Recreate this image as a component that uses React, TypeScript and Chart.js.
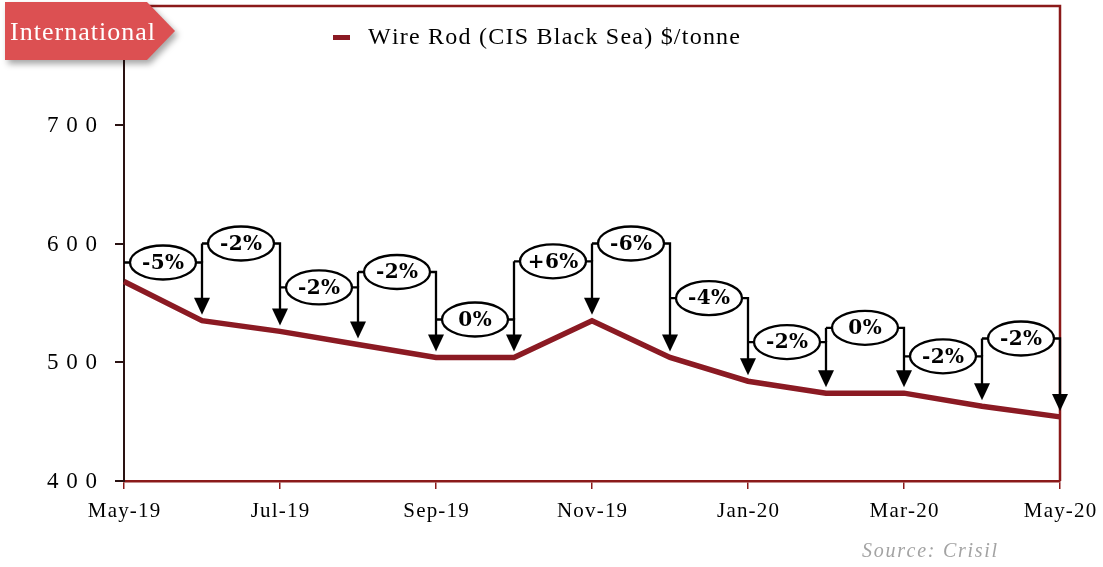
import React, { useEffect, useRef } from 'react';
import { Chart, registerables } from 'chart.js';

Chart.register(...registerables);

const months = ['May-19', 'Jun-19', 'Jul-19', 'Aug-19', 'Sep-19', 'Oct-19', 'Nov-19', 'Dec-19', 'Jan-20', 'Feb-20', 'Mar-20', 'Apr-20', 'May-20'];
const wireRodPrices = [568, 535, 526, 515, 504, 504, 535, 504, 484, 474, 474, 463, 454];
const changeLabels = ['-5%', '-2%', '-2%', '-2%', '0%', '+6%', '-6%', '-4%', '-2%', '0%', '-2%', '-2%'];
const calloutLevels = [584, 600, 563, 576, 536, 585, 600, 554, 517, 529, 505, 520];
const yTickValues = [400, 500, 600, 700];
const seriesName = 'Wire Rod (CIS Black Sea) $/tonne';
const badgeText = 'International';
const sourceText = 'Source: Crisil';

const LINE_COLOR = '#8B1A23';
const FRAME_COLOR = '#8B1A1A';
const AXIS_DARK = '#2a1212';

function drawSpaced(ctx: CanvasRenderingContext2D, text: string, x: number, y: number, opts: { spacing?: number; width?: number; align?: 'left' | 'right' | 'center' }) {
  const chars = Array.from(text);
  const widths = chars.map((c) => ctx.measureText(c).width);
  const natural = widths.reduce((a, b) => a + b, 0);
  let spacing = opts.spacing ?? 0;
  if (opts.width !== undefined && chars.length > 1) spacing = (opts.width - natural) / (chars.length - 1);
  const total = natural + spacing * (chars.length - 1);
  let cx = x;
  if (opts.align === 'right') cx = x - total;
  else if (opts.align === 'center') cx = x - total / 2;
  ctx.textAlign = 'left';
  chars.forEach((c, i) => {
    ctx.fillText(c, cx, y);
    cx += widths[i] + spacing;
  });
}

const framePlugin = {
  id: 'frame',
  beforeDatasetsDraw(chart: any) {
    const { ctx, chartArea } = chart;
    ctx.save();
    ctx.strokeStyle = FRAME_COLOR;
    ctx.lineWidth = 2.5;
    ctx.beginPath();
    ctx.moveTo(chartArea.left, chartArea.top);
    ctx.lineTo(chartArea.right, chartArea.top);
    ctx.lineTo(chartArea.right, chartArea.bottom);
    ctx.stroke();
    ctx.restore();
  },
};

const calloutPlugin = {
  id: 'callouts',
  afterDatasetsDraw(chart: any) {
    const { ctx } = chart;
    const xs = chart.scales.x;
    const ys = chart.scales.y;
    const rx = 33;
    const ry = 17;
    ctx.save();
    ctx.strokeStyle = '#000';
    ctx.fillStyle = '#000';
    ctx.lineWidth = 2.3;
    for (let k = 0; k < changeLabels.length; k++) {
      const x0 = xs.getPixelForValue(k);
      const x1 = xs.getPixelForValue(k + 1);
      const xm = (x0 + x1) / 2;
      const yL = ys.getPixelForValue(calloutLevels[k]);
      const tip = ys.getPixelForValue(wireRodPrices[k + 1]) - 6;
      if (k > 0) {
        const prevL = ys.getPixelForValue(calloutLevels[k - 1]);
        if (yL < prevL) {
          ctx.beginPath();
          ctx.moveTo(x0, yL);
          ctx.lineTo(x0, prevL);
          ctx.stroke();
        }
      }
      ctx.beginPath();
      ctx.moveTo(x0, yL);
      ctx.lineTo(xm - rx, yL);
      ctx.moveTo(xm + rx, yL);
      ctx.lineTo(x1, yL);
      ctx.lineTo(x1, tip - 14);
      ctx.stroke();
      ctx.beginPath();
      ctx.moveTo(x1 - 8, tip - 17);
      ctx.lineTo(x1 + 8, tip - 17);
      ctx.lineTo(x1, tip);
      ctx.closePath();
      ctx.fill();
      ctx.beginPath();
      ctx.ellipse(xm, yL, rx, ry, 0, 0, Math.PI * 2);
      ctx.fillStyle = '#fff';
      ctx.fill();
      ctx.stroke();
      ctx.fillStyle = '#000';
      ctx.font = 'bold 20px "DejaVu Serif"';
      ctx.textBaseline = 'middle';
      drawSpaced(ctx, changeLabels[k], xm, yL + 1, { spacing: 0.5, align: 'center' });
    }
    ctx.restore();
  },
};

const decorPlugin = {
  id: 'decor',
  afterDraw(chart: any) {
    const { ctx } = chart;
    const ys = chart.scales.y;
    const xs = chart.scales.x;
    ctx.save();
    ctx.fillStyle = '#000';
    ctx.font = '23px "Liberation Serif"';
    ctx.textBaseline = 'middle';
    yTickValues.forEach((v) => {
      drawSpaced(ctx, String(v), 97, ys.getPixelForValue(v) + 1, { width: 50, align: 'right' });
    });
    ctx.font = '21px "Liberation Serif"';
    ctx.textBaseline = 'middle';
    months.forEach((m, i) => {
      if (i % 2 !== 0) return;
      drawSpaced(ctx, m, xs.getPixelForValue(i), 511, { spacing: 1.2, align: 'center' });
    });
    const ds = chart.data.datasets[0];
    ctx.fillStyle = ds.borderColor;
    ctx.fillRect(333, 35, 17, 5);
    ctx.fillStyle = '#000';
    ctx.font = '24px "Liberation Serif"';
    ctx.textBaseline = 'middle';
    drawSpaced(ctx, ds.label, 368, 38, { width: 372, align: 'left' });
    ctx.fillStyle = '#A3A3A3';
    ctx.font = 'italic 20px "Liberation Serif"';
    drawSpaced(ctx, sourceText, 862, 552, { width: 135, align: 'left' });
    ctx.save();
    ctx.shadowColor = 'rgba(0,0,0,0.35)';
    ctx.shadowBlur = 6;
    ctx.shadowOffsetX = 3;
    ctx.shadowOffsetY = 4;
    ctx.fillStyle = '#DC5052';
    ctx.beginPath();
    ctx.moveTo(5, 2);
    ctx.lineTo(147, 2);
    ctx.lineTo(175, 31);
    ctx.lineTo(147, 60);
    ctx.lineTo(5, 60);
    ctx.closePath();
    ctx.fill();
    ctx.restore();
    ctx.fillStyle = '#fff';
    ctx.font = '26px "Liberation Serif"';
    ctx.textBaseline = 'middle';
    drawSpaced(ctx, badgeText, 10, 33, { width: 145, align: 'left' });
    ctx.restore();
  },
};

export default function App() {
  const canvasRef = useRef<HTMLCanvasElement>(null);

  useEffect(() => {
    if (!canvasRef.current) return;
    const chart = new Chart(canvasRef.current, {
      type: 'line',
      data: {
        labels: months,
        datasets: [
          {
            label: seriesName,
            data: wireRodPrices,
            borderColor: LINE_COLOR,
            backgroundColor: LINE_COLOR,
            borderWidth: 5.5,
            pointRadius: 0,
            tension: 0,
            fill: false,
          },
        ],
      },
      options: {
        animation: false,
        responsive: true,
        maintainAspectRatio: false,
        layout: { padding: { top: 6, right: 43, left: 0, bottom: 0 } },
        plugins: {
          legend: { display: false },
          tooltip: { enabled: false },
        },
        scales: {
          x: {
            type: 'category',
            offset: false,
            grid: {
              display: true,
              drawOnChartArea: false,
              drawTicks: true,
              tickLength: 8,
              tickColor: (c: any) => (c.index % 2 === 0 ? FRAME_COLOR : 'rgba(0,0,0,0)'),
              lineWidth: 1.5,
            },
            border: { display: true, color: FRAME_COLOR, width: 2.5 },
            ticks: { display: false, autoSkip: false, maxRotation: 0 },
            afterFit: (s: any) => {
              s.height = 86;
            },
          },
          y: {
            min: 400,
            max: 800,
            grid: {
              display: true,
              drawOnChartArea: false,
              drawTicks: true,
              tickLength: 9,
              tickColor: (c: any) => (c.tick && c.tick.value === 800 ? 'rgba(0,0,0,0)' : AXIS_DARK),
              lineWidth: 2,
            },
            border: { display: true, color: AXIS_DARK, width: 2 },
            ticks: { display: false, stepSize: 100 },
            afterFit: (s: any) => {
              s.width = 124;
            },
          },
        },
      },
      plugins: [framePlugin, calloutPlugin, decorPlugin],
    });
    return () => chart.destroy();
  }, []);

  return (
    <div style={{ position: 'absolute', left: 0, top: 0, width: 1103, height: 567, background: '#fff' }}>
      <canvas ref={canvasRef} />
    </div>
  );
}
